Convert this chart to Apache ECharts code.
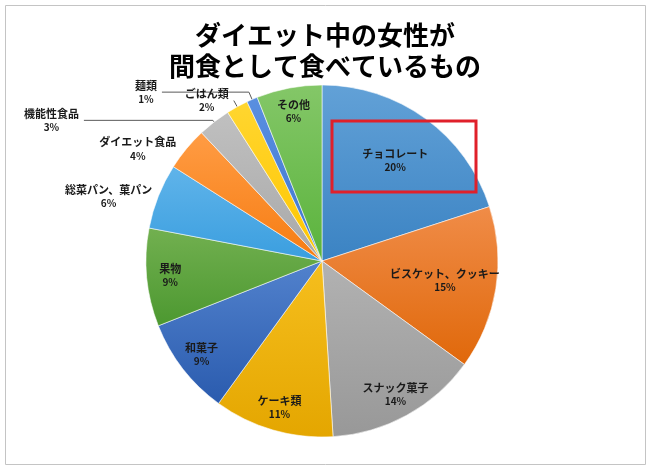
<!DOCTYPE html>
<html>
<head>
<meta charset="utf-8">
<script src="https://cdn.jsdelivr.net/npm/echarts@6/dist/echarts.min.js"></script>
<style>
html,body{margin:0;padding:0;background:#fff;}
#chart{width:650px;height:470px;}
</style>
</head>
<body>
<div id="chart"></div>
<script>
// ---- data ----
const categories = ['チョコレート','ビスケット、クッキー','スナック菓子','ケーキ類','和菓子','果物','総菜パン、菓パン','ダイエット食品','機能性食品','ごはん類','麺類','その他'];
const values = [20, 15, 14, 11, 9, 9, 6, 4, 3, 2, 1, 6];
const titleText = 'ダイエット中の女性が\n間食として食べているもの';

// ---- styles ----
const gradients = [
  ['#62a1d7','#3b83c3'],
  ['#f08c48','#e0680a'],
  ['#b2b2b2','#989898'],
  ['#f6bf1e','#e4a600'],
  ['#5282cd','#2a5bae'],
  ['#72b050','#4c9830'],
  ['#60b4ea','#3a9edf'],
  ['#ff9c44','#f67c12'],
  ['#c0c0c0','#a8a8a8'],
  ['#ffd630','#ffc600'],
  ['#5a8fe0','#3d76cf'],
  ['#84c768','#5ab33c']
];
const innerNear = ['チョコレート','ビスケット、クッキー'];
const outsideCfg = {
  '総菜パン、菓パン': {length: 0.1, length2: 1, line: false},
  'ダイエット食品': {length: 0.1, length2: 5, line: false},
  '機能性食品': {length: 2, length2: 129, line: true},
  'ごはん類': {length: 7, length2: 0.1, line: true},
  '麺類': {length: 8, length2: 87, line: true}
};
const R = 176;
const CENTER = [322, 261];
const FONT = '"Noto Sans CJK JP", "Noto Sans", sans-serif';

const labelBase = {
  color: '#1a1a1a',
  fontFamily: FONT,
  formatter: p => `{n|${p.name}}\n{p|${Math.round(p.percent)}%}`,
  rich: {
    n: {fontSize: 11, fontWeight: 'bold', color: '#1a1a1a', align: 'center', lineHeight: 14, fontFamily: FONT},
    p: {fontSize: 10, fontWeight: 'bold', color: '#1a1a1a', align: 'center', lineHeight: 13, fontFamily: FONT}
  }
};

const pieData = categories.map((c, i) => ({
  name: c, value: values[i],
  itemStyle: {
    color: {type: 'linear', x: 0, y: 0, x2: 0, y2: 1,
      colorStops: [{offset: 0, color: gradients[i][0]}, {offset: 1, color: gradients[i][1]}]}
  }
}));

const ringData = categories.map((c, i) => {
  const o = outsideCfg[c];
  const show = !innerNear.includes(c);
  if (o) {
    return {name: c, value: values[i],
      label: {show: true, position: 'outside'},
      labelLine: {show: o.line, length: o.length, length2: o.length2}};
  }
  return {name: c, value: values[i], label: {show: show, position: 'inside'}, labelLine: {show: false}};
});

const nearData = categories.map((c, i) => ({
  name: c, value: values[i],
  label: {show: innerNear.includes(c), position: 'inside'}
}));

const transparentItem = {color: 'rgba(0,0,0,0)', borderWidth: 0};

const chart = echarts.init(document.getElementById('chart'), null, {renderer: 'canvas'});
chart.setOption({
  backgroundColor: '#ffffff',
  animation: false,
  title: {
    text: titleText,
    left: 'center',
    top: 15,
    textStyle: {fontSize: 26, fontWeight: 'bold', color: '#000', lineHeight: 31, fontFamily: FONT}
  },
  graphic: [
    {type: 'rect', shape: {x: 5.5, y: 5.5, width: 640, height: 459},
      style: {fill: 'none', stroke: '#c4c4c4', lineWidth: 1}, z: 100, silent: true},
    {type: 'rect', shape: {x: 332, y: 121, width: 144, height: 71},
      style: {fill: 'none', stroke: '#e0202a', lineWidth: 3}, z: 100, silent: true}
  ],
  series: [
    {
      type: 'pie',
      center: CENTER,
      radius: [0, R],
      startAngle: 90,
      clockwise: true,
      silent: true,
      label: {show: false},
      labelLine: {show: false},
      itemStyle: {borderColor: 'rgba(255,255,255,0.55)', borderWidth: 1},
      data: pieData
    },
    {
      type: 'pie',
      center: CENTER,
      radius: [Math.round(R * 0.7), R],
      startAngle: 90,
      clockwise: true,
      silent: true,
      avoidLabelOverlap: false,
      itemStyle: transparentItem,
      label: Object.assign({}, labelBase, {distanceToLabelLine: 5}),
      labelLine: {lineStyle: {color: '#5a5a5a', width: 1}},
      data: ringData
    },
    {
      type: 'pie',
      center: CENTER,
      radius: [Math.round(R * 0.38), R],
      startAngle: 90,
      clockwise: true,
      silent: true,
      avoidLabelOverlap: false,
      itemStyle: transparentItem,
      label: Object.assign({}, labelBase),
      labelLine: {show: false},
      data: nearData
    }
  ]
});
</script>
</body>
</html>
